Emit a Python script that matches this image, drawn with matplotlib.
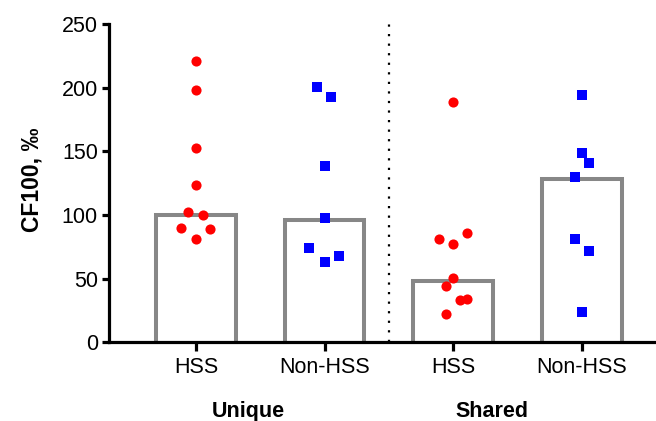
import matplotlib
matplotlib.use("Agg")
import matplotlib.pyplot as plt
import matplotlib.transforms as mtransforms
import numpy as np

plt.rcParams['font.family'] = ['Liberation Sans', 'DejaVu Sans']

# ---- data ----
categories = ["HSS", "Non-HSS", "HSS", "Non-HSS"]
groups = ["Unique", "Shared"]
bar_heights = [100, 96, 48.5, 128.5]

unique_hss = [221, 198, 152.5, 123.7, 102.2, 100.1, 90.1, 89.3, 81.2]
unique_hss_jit = [0, 0, 0, 0, -0.062, 0.054, -0.117, 0.109, 0]

unique_non = [200.9, 192.6, 138.8, 97.5, 74.4, 67.8, 63.1]
unique_non_jit = [-0.062, 0.054, 0, 0, -0.117, 0.109, 0]

shared_hss = [189, 86.2, 81.0, 77.3, 50.6, 44.3, 34.0, 33.0, 22.5]
shared_hss_jit = [0, 0.109, -0.109, 0, 0, -0.054, 0.11, 0.054, -0.054]

shared_non = [194.4, 148.6, 140.7, 130.2, 81.4, 71.8, 23.8]
shared_non_jit = [0, 0, 0.054, -0.054, -0.054, 0.054, 0]

yticks = [0, 50, 100, 150, 200, 250]

series = [
    (unique_hss, unique_hss_jit, 'o', '#ff0000'),
    (unique_non, unique_non_jit, 's', '#0000ff'),
    (shared_hss, shared_hss_jit, 'o', '#ff0000'),
    (shared_non, shared_non_jit, 's', '#0000ff'),
]

fig = plt.figure(figsize=(6.56, 4.21), dpi=100)
ax = fig.add_axes([109/656, 1-342.3/421, (655-109)/656, (342.3-24)/421])

x = np.arange(len(categories))
bw = 0.62
bar_color = '#878787'
for xi, h in zip(x, bar_heights):
    ax.plot([xi-bw/2, xi-bw/2, xi+bw/2, xi+bw/2], [0, h, h, 0],
            color=bar_color, lw=2.9, solid_joinstyle='miter', zorder=1, clip_on=False)

for xi, (vals, jit, m, c) in zip(x, series):
    ax.plot(xi + np.array(jit), vals, linestyle='none', marker=m, ms=7.3,
            color=c, markeredgewidth=0, zorder=3, clip_on=False)

# dotted separator
ax.plot([1.5, 1.5], [0, 250], color='black', lw=1.6,
        linestyle=(0, (1, 3.3)), zorder=2, clip_on=False)

ax.set_xlim(-0.676, 3.57)
ax.set_ylim(0, 250)
ax.set_yticks(yticks)
ax.set_xticks(x)
ax.set_xticklabels(categories)

for s in ['top', 'right']:
    ax.spines[s].set_visible(False)
for s in ['left', 'bottom']:
    ax.spines[s].set_linewidth(2.3)
    ax.spines[s].set_zorder(4)

ax.tick_params(axis='y', length=5, width=2.3, pad=3, labelsize=15.5)
ax.tick_params(axis='x', length=6.5, width=2.3, pad=4, labelsize=15.5)

ax.set_ylabel("CF100, ‰", fontsize=16.5, fontweight='bold')
ax.yaxis.set_label_coords(-0.12, 0.51)

trans = mtransforms.blended_transform_factory(ax.transData, ax.transAxes)
ax.text(0.404, -0.216, groups[0], transform=trans, ha='center', va='center',
        fontsize=15.5, fontweight='bold')
ax.text(2.30, -0.216, groups[1], transform=trans, ha='center', va='center',
        fontsize=15.5, fontweight='bold')

fig.savefig("out.png", dpi=100)
